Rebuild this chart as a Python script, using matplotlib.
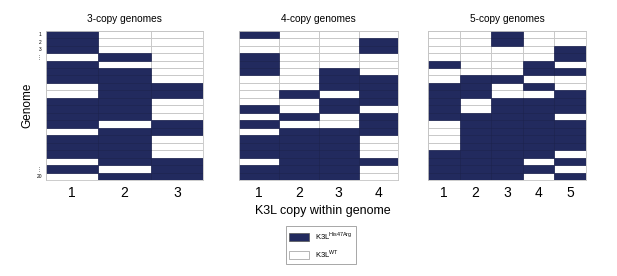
import numpy as np
import matplotlib.pyplot as plt
from matplotlib.patches import Patch

plt.rcParams['font.family'] = ['Liberation Sans', 'DejaVu Sans']
plt.rcParams['mathtext.fontset'] = 'custom'
plt.rcParams['mathtext.rm'] = 'Liberation Sans'

# 1 = K3L His47Arg, 0 = K3L WT ; one list per copy, rows = genomes 1..20
copy3 = [
    [1,1,1,0,1,1,1,0,0,1,1,1,1,0,1,1,1,0,1,0],
    [0,0,0,1,0,1,1,1,1,1,1,1,0,1,1,1,1,1,0,1],
    [0,0,0,0,0,0,0,1,1,0,0,0,1,1,0,0,0,1,1,1],
]
copy4 = [
    [1,0,0,1,1,1,0,0,0,0,1,0,1,0,1,1,1,0,1,1],
    [0,0,0,0,0,0,0,0,1,0,0,1,0,1,1,1,1,1,1,1],
    [0,0,0,0,0,1,1,1,0,1,1,0,0,1,1,1,1,1,1,1],
    [0,1,1,0,0,0,1,1,1,1,0,1,1,1,0,0,0,1,0,0],
]
copy5 = [
    [0,0,0,0,1,0,0,1,1,1,1,1,0,0,0,0,1,1,1,1],
    [0,0,0,0,0,0,1,1,1,0,0,1,1,1,1,1,1,1,1,1],
    [1,1,0,0,0,0,1,0,0,1,1,1,1,1,1,1,1,1,1,1],
    [0,0,0,0,1,1,0,1,0,1,1,1,1,1,1,1,1,0,1,0],
    [0,0,1,1,0,1,0,0,1,1,1,0,1,1,1,1,0,1,0,1],
]
titles = ['3-copy genomes', '4-copy genomes', '5-copy genomes']
row_labels = ['1', '2', '3', '\u22ee'] + [''] * 14 + ['\u22ee', '20']

navy = '#222a5e'
W, H = 617, 276
fig = plt.figure(figsize=(W / 100, H / 100), dpi=100)

# panel boxes in pixels: left, top, width, height
boxes = [(46, 30.7, 157, 149.3), (239.3, 30.7, 159, 149.3), (428.3, 30.7, 157.7, 149.3)]

for data, title, (l, t, w, h) in zip([copy3, copy4, copy5], titles, boxes):
    ax = fig.add_axes([l / W, 1 - (t + h) / H, w / W, h / H])
    m = np.array(data).T  # rows x copies
    nrow, ncol = m.shape
    # white grid of all cells
    for c in range(ncol):
        ax.bar(np.full(nrow, c), 1, bottom=np.arange(nrow), width=1, align='edge',
               color='white', edgecolor='#c4c4c4', linewidth=0.6)
    # mutant cells
    rows, cols = np.nonzero(m)
    ax.bar(cols, 1, bottom=rows, width=1, align='edge',
           color=navy, edgecolor='#1b2250', linewidth=0.5)
    ax.set_xlim(0, ncol)
    ax.set_ylim(nrow, 0)
    ax.set_xticks(np.arange(ncol) + 0.5)
    ax.set_xticklabels([str(i + 1) for i in range(ncol)], fontsize=10)
    ax.tick_params(length=0, pad=4)
    if title == titles[0]:
        ax.set_yticks(np.arange(nrow) + 0.5)
        ax.set_yticklabels(row_labels, fontsize=3.5)
        ax.tick_params(axis='y', pad=3)
    else:
        ax.set_yticks([])
    for s in ax.spines.values():
        s.set_color('#c4c4c4')
        s.set_linewidth(0.6)
    ax.set_title(title, fontsize=7.3, pad=6)

fig.text(27 / W, 1 - 105 / H, 'Genome', rotation=90, fontsize=8.5, ha='center', va='center')
fig.text(323 / W, 1 - 211 / H, 'K3L copy within genome', fontsize=9, ha='center', va='center')

handles = [Patch(facecolor=navy, edgecolor='#555555', linewidth=0.5),
           Patch(facecolor='white', edgecolor='#999999', linewidth=0.5)]
labels = ['K3L$^{\\mathrm{His47Arg}}$', 'K3L$^{\\mathrm{WT}}$']
leg = fig.legend(handles, labels, loc='center', bbox_to_anchor=(321 / W, 1 - 245 / H),
                 fontsize=5.5, handlelength=2.6, handleheight=1.3, labelspacing=0.8,
                 borderpad=0.5, handletextpad=0.8, fancybox=False, framealpha=1)
leg.get_frame().set_edgecolor('#999999')
leg.get_frame().set_linewidth(0.6)

plt.savefig('out.png', dpi=100)
